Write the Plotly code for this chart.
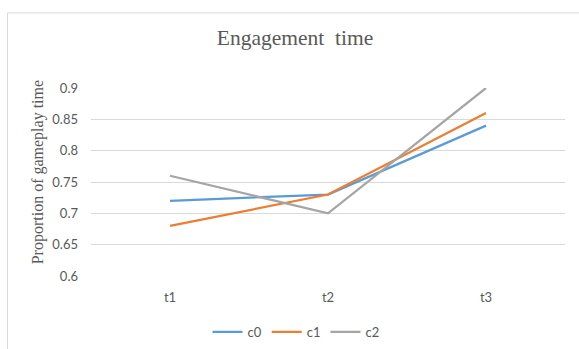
import plotly.graph_objects as go

# Measurement points and series values
periods = ["t1", "t2", "t3"]
c0_values = [0.72, 0.73, 0.84]
c1_values = [0.68, 0.73, 0.86]
c2_values = [0.76, 0.70, 0.90]
series_names = ["c0", "c1", "c2"]
series_colors = ["#5B9BD5", "#ED7D31", "#A5A5A5"]
y_ticks = [0.6, 0.65, 0.7, 0.75, 0.8, 0.85, 0.9]
y_tick_labels = ["0.6", "0.65", "0.7", "0.75", "0.8", "0.85", "0.9"]

W, H = 579, 349
L, R, T, B = 91, 14, 88, 67
plot_w = W - L - R
plot_h = H - T - B


def px_x(px):
    return (px - L) / plot_w


def px_y(py):
    return (H - B - py) / plot_h


fig = go.Figure()
for name, vals, col in zip(series_names, [c0_values, c1_values, c2_values], series_colors):
    fig.add_trace(go.Scatter(
        x=periods, y=vals, name=name, mode="lines",
        line=dict(color=col, width=2.25),
    ))

tick_font = dict(family="Lato, Open Sans, sans-serif", size=13, color="#595959")
serif = "Liberation Serif, Times New Roman, serif"

fig.update_layout(
    width=W, height=H,
    margin=dict(l=L, r=R, t=T, b=B),
    paper_bgcolor="white", plot_bgcolor="white",
    title=dict(text="Engagement  time", x=295 / W, xanchor="center",
               y=1 - 37 / H, yanchor="middle",
               font=dict(family=serif, size=21.5, color="#595959")),
    xaxis=dict(type="category", range=[-0.5, 2.5], showgrid=False,
               showline=False, zeroline=False, tickfont=tick_font,
               ticks="", ticklabelstandoff=12, fixedrange=True),
    yaxis=dict(range=[0.6, 0.9], tickvals=y_ticks, ticktext=y_tick_labels,
               showgrid=True, gridcolor="#D9D9D9", gridwidth=1,
               zeroline=False, showline=False, tickfont=tick_font,
               ticks="", ticklabelstandoff=12, fixedrange=True),
    showlegend=True,
    legend=dict(orientation="h", x=296 / W, xanchor="center",
                xref="container", yref="container",
                y=1 - 332 / H, yanchor="middle",
                font=tick_font, itemwidth=30, tracegroupgap=0),
    annotations=[dict(text="Proportion of gameplay time", textangle=-90,
                      xref="paper", yref="paper", x=px_x(38), y=px_y(175),
                      xanchor="center", yanchor="middle", showarrow=False,
                      font=dict(family=serif, size=16, color="#595959"))],
    shapes=[dict(type="rect", xref="paper", yref="paper",
                 x0=px_x(7.5), x1=px_x(620), y0=px_y(400), y1=px_y(10.5),
                 line=dict(color="#D9D9D9", width=1), fillcolor="rgba(0,0,0,0)",
                 layer="below")],
)

fig.write_html("out.html")
